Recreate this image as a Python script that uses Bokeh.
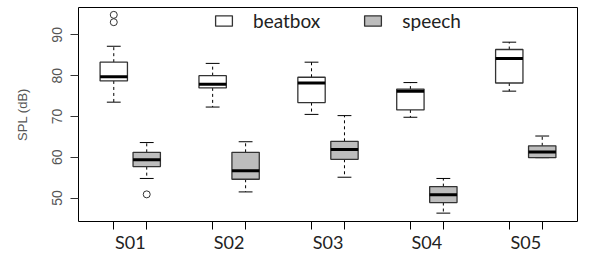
from bokeh.plotting import figure
from bokeh.models import Range1d, FixedTicker, Legend, LegendItem, ColumnDataSource, CustomJSTickFormatter
from bokeh.embed import file_html
from bokeh.resources import INLINE

subjects = ["S01", "S02", "S03", "S04", "S05"]
conditions = ["beatbox", "speech"]

# beatbox box statistics (dB)
bb_low = [73.5, 72.3, 70.5, 69.8, 76.2]
bb_q1 = [78.7, 77.0, 73.4, 71.6, 78.2]
bb_med = [79.7, 77.9, 78.2, 76.2, 84.2]
bb_q3 = [83.3, 80.0, 79.6, 76.7, 86.4]
bb_high = [87.2, 83.0, 83.3, 78.3, 88.2]
bb_out_subject = ["S01", "S01"]
bb_out_value = [94.9, 93.1]

# speech box statistics (dB)
sp_low = [54.8, 51.5, 55.1, 46.3, 59.9]
sp_q1 = [57.7, 54.6, 59.5, 48.9, 59.9]
sp_med = [59.4, 56.7, 61.9, 50.8, 61.3]
sp_q3 = [61.2, 61.2, 63.9, 52.8, 62.8]
sp_high = [63.6, 63.8, 70.2, 54.8, 65.2]
sp_out_subject = ["S01"]
sp_out_value = [50.9]

y_ticks = [50, 60, 70, 80, 90]

BOX_W = 0.83
CAP_W = 0.42

p = figure(width=579, height=255, output_backend="svg", toolbar_location=None,
           x_range=Range1d(-0.07, 15.07), y_range=Range1d(44.25, 96.7))
p.min_border_left = 78
p.min_border_right = 2
p.min_border_top = 7
p.min_border_bottom = 20
p.background_fill_color = "white"
p.border_fill_color = "white"
p.outline_line_color = "black"
p.outline_line_width = 1
p.xgrid.visible = False
p.ygrid.visible = False


def pos(subject, j):
    return 3 * subjects.index(subject) + 1 + j


fills = ["white", "#bdbdbd"]
stats = [
    (bb_low, bb_q1, bb_med, bb_q3, bb_high, bb_out_subject, bb_out_value),
    (sp_low, sp_q1, sp_med, sp_q3, sp_high, sp_out_subject, sp_out_value),
]
box_renderers = []
for j, (lo, q1, med, q3, hi, osub, oval) in enumerate(stats):
    xs = [pos(s, j) for s in subjects]
    src = ColumnDataSource(dict(
        x=xs, x0=[x - BOX_W / 2 for x in xs], x1=[x + BOX_W / 2 for x in xs],
        c0=[x - CAP_W / 2 for x in xs], c1=[x + CAP_W / 2 for x in xs],
        lo=lo, q1=q1, med=med, q3=q3, hi=hi))
    p.segment(x0="x", x1="x", y0="q3", y1="hi", source=src, line_color="black",
              line_width=1, line_dash="3 3")
    p.segment(x0="x", x1="x", y0="q1", y1="lo", source=src, line_color="black",
              line_width=1, line_dash="3 3")
    p.segment(x0="c0", x1="c1", y0="hi", y1="hi", source=src, line_color="black", line_width=1)
    p.segment(x0="c0", x1="c1", y0="lo", y1="lo", source=src, line_color="black", line_width=1)
    r = p.vbar(x="x", width=BOX_W, bottom="q1", top="q3", source=src,
               fill_color=fills[j], line_color="#333333", line_width=1.3)
    box_renderers.append(r)
    p.segment(x0="x0", x1="x1", y0="med", y1="med", source=src, line_color="black", line_width=3)
    osrc = ColumnDataSource(dict(x=[pos(s, j) for s in osub], y=oval))
    p.scatter(x="x", y="y", source=osrc, marker="circle", size=7, fill_color=None,
              line_color="#333333", line_width=1)

# x axis: ticks at each box, labels at each subject pair centre
xa = p.xaxis[0]
xa.ticker = FixedTicker(ticks=[3 * i + 1.5 for i in range(len(subjects))],
                        minor_ticks=[3 * i + 1 + j for i in range(len(subjects)) for j in range(2)])
xa.formatter = CustomJSTickFormatter(args=dict(labels=subjects),
                                     code="var i = Math.round((tick - 1.5) / 3); return labels[i] || '';")
xa.major_tick_out = 0
xa.major_tick_in = 0
xa.minor_tick_out = 8
xa.minor_tick_in = 0
xa.minor_tick_line_color = "black"
xa.axis_line_color = None
xa.major_label_standoff = 1
xa.major_label_text_font = "Lato"
xa.major_label_text_font_size = "18px"
xa.major_label_text_color = "#222222"

ya = p.yaxis[0]
ya.ticker = FixedTicker(ticks=y_ticks)
ya.major_tick_out = 8
ya.major_tick_in = 0
ya.minor_tick_out = 0
ya.minor_tick_in = 0
ya.major_tick_line_color = "#333333"
ya.axis_line_color = None
ya.major_label_orientation = "vertical"
ya.major_label_standoff = 8
ya.major_label_text_font = "Liberation Sans"
ya.major_label_text_font_size = "14px"
ya.major_label_text_color = "#555555"
ya.axis_label = "SPL (dB)"
ya.axis_label_text_font = "Liberation Sans"
ya.axis_label_text_font_size = "13px"
ya.axis_label_text_font_style = "normal"
ya.axis_label_text_color = "#555555"
ya.axis_label_standoff = 20

legend = Legend(items=[LegendItem(label=conditions[k], renderers=[box_renderers[k]]) for k in range(2)],
                orientation="horizontal", location=(135, 189), padding=0, margin=0,
                glyph_width=21, glyph_height=13, label_standoff=19, spacing=42,
                border_line_color=None, background_fill_alpha=0,
                label_text_font="Lato", label_text_font_size="19px", label_text_color="#222222")
p.add_layout(legend, "center")

open("out.html", "w").write(file_html(p, INLINE))
